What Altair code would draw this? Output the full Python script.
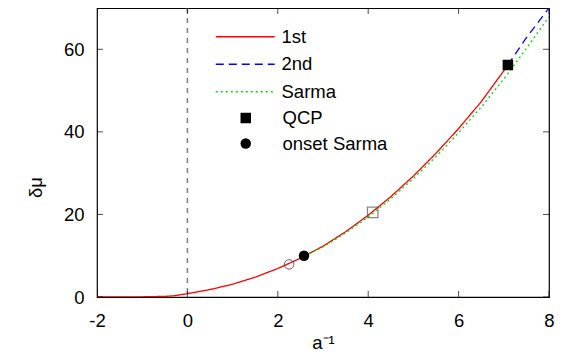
import altair as alt
import pandas as pd

# ---- data ----
x_first = [-2, -1.5, -1, -0.5, -0.3, 0, 0.5, 1, 1.5, 2, 2.5, 3, 3.5, 4, 4.5, 5, 5.5, 6, 6.5, 7, 7.09]
y_first = [0, 0.02, 0.05, 0.15, 0.3, 0.8, 1.8, 3.1, 4.8, 6.9, 9.4, 12.3, 15.8, 19.8, 24.3, 29.3, 34.8, 40.8, 47.3, 54.8, 56.2]
x_second = [7.09, 7.5, 8]
y_second = [56.2, 62.8, 70.0]
x_sarma = [2.58, 3, 3.5, 4, 4.5, 5, 5.5, 6, 6.5, 7, 7.5, 8]
y_sarma = [10.0, 12.1, 15.5, 19.4, 23.8, 28.7, 34.0, 39.8, 46.0, 52.8, 60.2, 67.9]

series_names = ["1st", "2nd", "Sarma"]
series_colors = ["#ff0000", "#0000ff", "#00dd00"]
series_dash = [[1, 0], [8, 5], [2, 3]]

marker_names = ["QCP", "onset Sarma"]
marker_x = [7.09, 2.58]
marker_y = [56.2, 10.0]
marker_shapes = ["square", "circle"]

open_square_x = [4.1]
open_square_y = [20.5]
open_circle_x = [2.25]
open_circle_y = [7.9]

vline_x = [0]
x_ticks = [-2, 0, 2, 4, 6, 8]
y_ticks = [0, 20, 40, 60]

FONT = "Liberation Sans"
FS = 18.5
W, H = 452, 289

rows = []
for name, xs, ys in [("1st", x_first, y_first), ("2nd", x_second, y_second), ("Sarma", x_sarma, y_sarma)]:
    for i, (a, b) in enumerate(zip(xs, ys)):
        rows.append({"series": name, "x": a, "y": b, "order": i})
lines_df = pd.DataFrame(rows)
markers_df = pd.DataFrame({"kind": marker_names, "x": marker_x, "y": marker_y})
osq_df = pd.DataFrame({"x": open_square_x, "y": open_square_y})
oci_df = pd.DataFrame({"x": open_circle_x, "y": open_circle_y})
vline_df = pd.DataFrame({"x": vline_x})
xt_df = pd.DataFrame({"v": x_ticks})
yt_df = pd.DataFrame({"v": y_ticks})

xscale = alt.Scale(domain=[-2, 8], nice=False, zero=False)
yscale = alt.Scale(domain=[0, 70], nice=False)

xaxis = alt.Axis(values=x_ticks, ticks=False, domain=False, grid=False, labelFlush=False,
                 labelExpr="'' + datum.value",
                 labelFontSize=FS, labelFont=FONT, labelColor="black", labelPadding=14,
                 title="a⁻¹", titleFont=FONT, titleFontSize=FS, titleFontWeight="normal",
                 titleColor="black", titleY=51, titleBaseline="alphabetic")
yaxis = alt.Axis(values=y_ticks, ticks=False, domain=False, grid=False, labelFlush=False,
                 labelFontSize=FS, labelFont=FONT, labelColor="black", labelPadding=13,
                 title="δμ", titleFont=FONT, titleFontSize=FS, titleFontWeight="normal",
                 titleColor="black", titleX=-62, titleY=179, titleAngle=-90,
                 titleAlign="center", titleBaseline="middle")

line_legend = alt.Legend(orient="none", legendX=139, legendY=19.5, title=None,
                         symbolType="M-5,0H5", symbolSize=139, symbolStrokeWidth=1.3,
                         labelOffset=27, labelFontSize=FS, labelFont=FONT, labelColor="black",
                         rowPadding=8.5, padding=0)

lines = alt.Chart(lines_df).mark_line(strokeWidth=1.3, clip=True).encode(
    x=alt.X("x:Q", scale=xscale, axis=xaxis),
    y=alt.Y("y:Q", scale=yscale, axis=yaxis),
    color=alt.Color("series:N", scale=alt.Scale(domain=series_names, range=series_colors), legend=line_legend),
    strokeDash=alt.StrokeDash("series:N", scale=alt.Scale(domain=series_names, range=series_dash), legend=line_legend),
    order="order:Q",
)

vline = alt.Chart(vline_df).mark_rule(color="#808080", strokeWidth=1.5, strokeDash=[5, 5]).encode(
    x=alt.X("x:Q", scale=xscale)
)

shape_legend = alt.Legend(orient="none", legendX=139.5, legendY=100.75, title=None,
                          symbolSize=110, symbolFillColor="black", symbolStrokeColor="black",
                          labelOffset=27.5, labelFontSize=FS, labelFont=FONT, labelColor="black",
                          rowPadding=6.5, padding=0)

markers = alt.Chart(markers_df).mark_point(filled=True, color="black", size=110, opacity=1).encode(
    x=alt.X("x:Q", scale=xscale),
    y=alt.Y("y:Q", scale=yscale),
    shape=alt.Shape("kind:N", scale=alt.Scale(domain=marker_names, range=marker_shapes), legend=shape_legend),
)

osq = alt.Chart(osq_df).mark_point(shape="square", filled=False, color="#555555", size=110, strokeWidth=1.3).encode(
    x=alt.X("x:Q", scale=xscale), y=alt.Y("y:Q", scale=yscale))
oci = alt.Chart(oci_df).mark_point(shape="circle", filled=False, color="#222222", size=90, strokeWidth=1).encode(
    x=alt.X("x:Q", scale=xscale), y=alt.Y("y:Q", scale=yscale))

tick_bottom = alt.Chart(xt_df).mark_tick(orient="vertical", size=12, thickness=1, color="black", clip=True).encode(
    x=alt.X("v:Q", scale=xscale), y=alt.value(H))
tick_top = alt.Chart(xt_df).mark_tick(orient="vertical", size=12, thickness=1, color="black", clip=True).encode(
    x=alt.X("v:Q", scale=xscale), y=alt.value(0))
tick_left = alt.Chart(yt_df).mark_tick(orient="horizontal", size=12, thickness=1, color="black", clip=True).encode(
    y=alt.Y("v:Q", scale=yscale), x=alt.value(0))
tick_right = alt.Chart(yt_df).mark_tick(orient="horizontal", size=12, thickness=1, color="black", clip=True).encode(
    y=alt.Y("v:Q", scale=yscale), x=alt.value(W))

chart = alt.layer(vline, lines, osq, oci, markers, tick_bottom, tick_top, tick_left, tick_right).resolve_legend(
    color="shared", strokeDash="shared", shape="independent"
).properties(
    width=W, height=H,
    autosize=alt.AutoSizeParams(type="none"),
    padding={"left": 89, "top": 0, "right": 17, "bottom": 56},
    background="white",
).configure_view(stroke="black", strokeWidth=1.2)

chart.save("out.html", embed_options={"renderer": "svg", "actions": False})
